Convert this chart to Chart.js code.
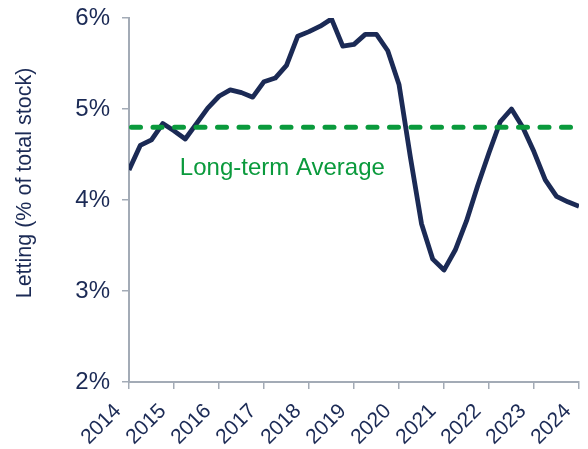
<!DOCTYPE html>
<html>
<head>
<meta charset="utf-8">
<script src="https://cdn.jsdelivr.net/npm/chart.js@4/dist/chart.umd.min.js"></script>
<style>
  html, body { margin: 0; padding: 0; background: #fff; }
  #wrap { width: 588px; height: 449px; }
</style>
</head>
<body>
<div id="wrap"><canvas id="myChart"></canvas></div>
<script>
// quarterly letting rate, Q1 2014 .. Q1 2024
var startYear = 2014;
var letting = [
  4.33, 4.60, 4.66, 4.84, 4.76, 4.67, 4.84, 5.01, 5.14, 5.21, 5.18,
  5.13, 5.30, 5.34, 5.48, 5.80, 5.85, 5.91, 5.99, 5.69, 5.71, 5.82,
  5.82, 5.64, 5.27, 4.48, 3.74, 3.35, 3.23, 3.45, 3.77, 4.16, 4.52,
  4.86, 5.00, 4.80, 4.53, 4.22, 4.04, 3.98, 3.93
];
var longTermAvg = 4.8;
var avgLabel = "Long-term Average";
var yTicks = [2, 3, 4, 5, 6];
var yTitle = "Letting (% of total stock)";

var navy = "#1b2a55";
var green = "#0a9a3c";
var axisGrey = "#a3abb6";
var fontFam = "'Liberation Sans', Arial, sans-serif";

var linePoints = letting.map(function(v, i) {
  return { x: startYear + i / 4, y: v };
});
var avgPoints = [
  { x: startYear, y: longTermAvg },
  { x: startYear + (letting.length - 1) / 4, y: longTermAvg }
];

// average label + y title, drawn by hand so they sit where the original has them
var extraText = {
  id: "extraText",
  afterDatasetsDraw: function(chart) {
    var ctx = chart.ctx;
    var xs = chart.scales.x, ys = chart.scales.y;
    ctx.save();
    ctx.font = "24px " + fontFam;
    ctx.fillStyle = green;
    ctx.textBaseline = "middle";
    ctx.fillText(avgLabel, xs.getPixelForValue(2015.13), ys.getPixelForValue(4.35));
    ctx.restore();

    ctx.save();
    ctx.font = "21.5px " + fontFam;
    ctx.fillStyle = navy;
    ctx.textAlign = "center";
    ctx.textBaseline = "middle";
    ctx.translate(25, 183);
    ctx.rotate(-Math.PI / 2);
    ctx.fillText(yTitle, 0, 0);
    ctx.restore();
  }
};

var chart = new Chart(document.getElementById("myChart"), {
  type: "line",
  data: {
    datasets: [
      {
        label: avgLabel,
        data: avgPoints,
        borderColor: green,
        borderWidth: 5,
        borderDash: [9, 12.5],
        borderDashOffset: -2.5,
        borderCapStyle: "round",
        pointRadius: 0
      },
      {
        label: "Letting",
        data: linePoints,
        borderColor: navy,
        borderWidth: 4.8,
        borderJoinStyle: "round",
        tension: 0,
        pointRadius: 0
      }
    ]
  },
  options: {
    responsive: true,
    maintainAspectRatio: false,
    animation: false,
    layout: { padding: { top: 18, right: 9, left: 0, bottom: 0 } },
    plugins: {
      legend: { display: false },
      tooltip: { enabled: false }
    },
    scales: {
      x: {
        type: "linear",
        min: 2014,
        max: 2024,
        afterFit: function(scale) {
          scale.height = 67;
          scale.paddingLeft = 0;
          scale.paddingRight = 0;
        },
        ticks: {
          stepSize: 1,
          autoSkip: false,
          maxRotation: 45,
          minRotation: 45,
          color: navy,
          font: { family: fontFam, size: 21 },
          padding: 10,
          labelOffset: -11,
          callback: function(v) { return String(v); }
        },
        grid: {
          display: true,
          drawOnChartArea: false,
          drawTicks: true,
          tickLength: 7,
          color: axisGrey,
          lineWidth: 1.5
        },
        border: { display: true, color: axisGrey, width: 2 }
      },
      y: {
        min: 2,
        max: 6,
        afterFit: function(scale) {
          scale.width = 129;
          scale.paddingTop = 0;
          scale.paddingBottom = 0;
        },
        afterBuildTicks: function(scale) {
          scale.ticks = yTicks.map(function(v) { return { value: v }; });
        },
        ticks: {
          color: navy,
          font: { family: fontFam, size: 24 },
          padding: 12,
          callback: function(v) { return v + "%"; }
        },
        grid: {
          display: true,
          drawOnChartArea: false,
          drawTicks: true,
          tickLength: 7,
          color: axisGrey,
          lineWidth: 1.5
        },
        border: { display: true, color: axisGrey, width: 2 }
      }
    }
  },
  plugins: [extraText]
});
</script>
</body>
</html>
